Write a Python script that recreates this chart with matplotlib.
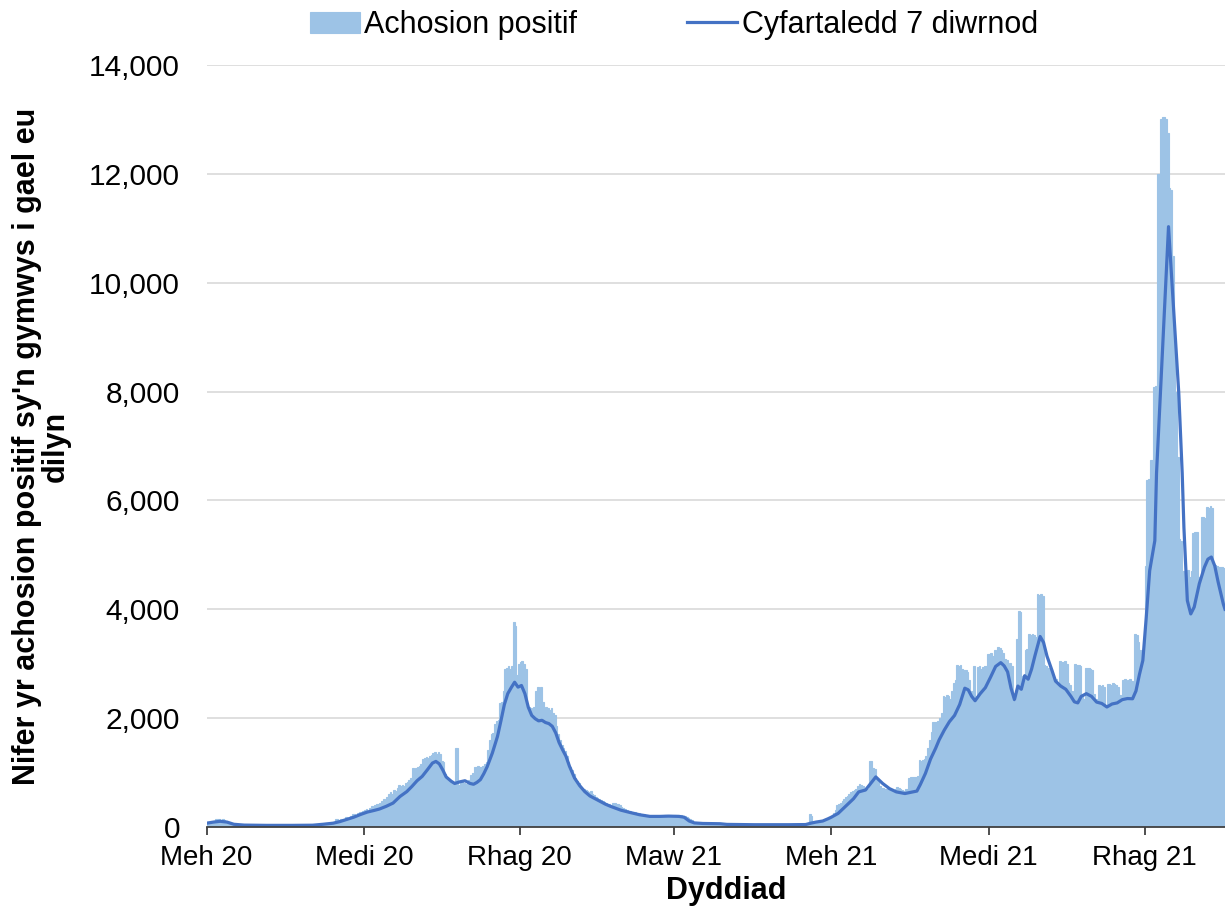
import matplotlib
matplotlib.use("Agg")
import matplotlib.pyplot as plt
import matplotlib.dates as mdates
from matplotlib.ticker import FuncFormatter
import pandas as pd

# daily positive cases eligible for follow-up, from 1 June 2020
cases_2020 = [
    # Jun
    70, 80, 90, 75, 110, 140, 150, 145, 135, 140, 120, 70, 60, 55, 50,
    40, 35, 38, 30, 32, 35, 30, 28, 30, 33, 28, 30, 25, 27, 30,
    # Jul
    28, 30, 25, 27, 32, 30, 26, 28, 24, 30, 27, 25, 29, 31, 26, 24,
    28, 30, 27, 25, 29, 26, 24, 30, 28, 27, 25, 29, 31, 28, 30,
    # Aug
    35, 40, 38, 45, 50, 55, 60, 58, 65, 70, 80, 75, 85, 95, 150, 140,
    130, 145, 150, 155, 185, 170, 190, 200, 230, 240, 220, 260, 280, 275, 300,
    # Sep
    310, 330, 300, 350, 380, 360, 400, 420, 430, 440, 470, 520, 500, 560, 600,
    640, 610, 685, 660, 720, 770, 750, 780, 760, 800, 830, 860, 900, 1080, 1070,
    # Oct
    1090, 1100, 1120, 1150, 1250, 1270, 1280, 1260, 1300, 1320, 1360, 1370,
    1350, 1380, 1340, 1210, 1200, 980, 900, 850, 820, 800, 790, 1460, 1450,
    780, 800, 820, 810, 790, 800,
    # Nov
    860, 950, 1000, 1110, 1100, 1120, 1110, 1100, 1120, 1150, 1200, 1420,
    1600, 1700, 1725, 1900, 1950, 1970, 2280, 2300, 2500, 2900, 2920, 2950,
    2900, 2950, 3775, 3700, 2800, 3000,
    # Dec
    3025, 3050, 3000, 2900, 2250, 2200, 2180, 2150, 2200, 2500, 2580, 2550,
    2580, 2300, 2185, 2200, 2180, 2150, 2190, 2100, 2050, 1850, 1700, 1600,
    1500, 1450, 1400, 1300, 1200, 1100, 1050,
]

cases_2021 = [
    # Jan
    980, 900, 850, 800, 760, 720, 700, 680, 660, 650, 655, 600, 580, 560, 540,
    520, 500, 480, 460, 450, 430, 420, 410, 440, 440, 430, 420, 400, 360, 340, 330,
    # Feb
    310, 300, 290, 280, 280, 270, 260, 250, 240, 235, 230, 220, 215, 210,
    205, 210, 200, 205, 210, 200, 205, 210, 215, 220, 210, 200, 205, 210,
    # Mar
    220, 225, 215, 220, 225, 210, 200, 180, 160, 140, 120, 100, 90, 80, 70,
    65, 68, 72, 60, 65, 70, 62, 58, 66, 64, 60, 55, 58, 62, 57, 55,
    # Apr
    50, 45, 48, 42, 40, 46, 44, 38, 42, 45, 40, 43, 41, 39, 44,
    42, 40, 38, 45, 43, 41, 40, 44, 42, 39, 41, 43, 40, 38, 42,
    # May
    42, 45, 40, 44, 46, 43, 41, 45, 48, 44, 46, 50, 47, 52, 55, 58,
    60, 65, 230, 210, 75, 80, 90, 95, 100, 110, 115, 120, 130, 150, 170,
    # Jun
    185, 250, 320, 400, 430, 450, 480, 520, 550, 570, 600, 640, 660, 675, 700,
    750, 790, 780, 760, 720, 690, 700, 1220, 1210, 1075, 1060, 900, 820, 760, 720,
    # Jul
    720, 700, 690, 680, 700, 690, 680, 700, 740, 720, 700, 680, 670, 690, 700,
    900, 920, 920, 910, 920, 930, 1230, 1220, 1240, 1250, 1300, 1450, 1600,
    1750, 1925, 1920,
    # Aug
    1925, 1950, 2000, 2100, 2400, 2380, 2420, 2400, 2350, 2500, 2650, 2700,
    2980, 2950, 2980, 2900, 2890, 2880, 2850, 2700, 2500, 2450, 2950, 2400,
    2940, 2950, 2900, 2940, 2960, 2950, 3180,
    # Sep
    3180, 3200, 3150, 3250, 3240, 3300, 3280, 3250, 3200, 3080, 3060, 3000,
    3020, 2950, 2350, 2320, 3450, 3970, 3950, 2780, 2800, 3260, 3270, 3540,
    3520, 3550, 3530, 3500, 4290, 4260,
    # Oct
    4280, 4250, 2980, 2950, 2930, 2900, 2910, 2750, 2700, 2720, 2650, 3050,
    3040, 3030, 3050, 3000, 2650, 2600, 2500, 2400, 2990, 2980, 2985, 2950,
    2400, 2350, 2930, 2920, 2925, 2900, 2880,
    # Nov
    2450, 2350, 2300, 2600, 2590, 2610, 2580, 2250, 2630, 2620, 2600, 2640,
    2620, 2600, 2580, 2420, 2400, 2700, 2710, 2690, 2700, 2720, 2680, 2400,
    3540, 3520, 3400, 3250, 3240, 3200,
    # Dec
    4800, 6370, 6400, 6740, 6740, 8090, 8100, 12000, 12000, 13000, 13040,
    13050, 13000, 12750, 11740, 11700, 10500, 9000, 8000, 6800, 5300, 5260,
    4700, 4650, 4700, 4720, 4600, 4700, 5400, 5415, 5420,
]

cases_2022 = [
    4600, 4590, 5690, 5700, 5680, 5880, 5870, 5900, 5860, 4800, 4810, 4790,
    4780, 4770, 4775, 4760,
]

# 7 day average (days since 1 June 2020)
avg_day = [
    0, 4, 8, 12, 16, 22, 35, 50, 62, 68, 74, 78, 82, 86, 90, 94, 98, 101,
    105, 109, 113, 117, 120, 123, 126, 129, 132, 134, 136, 138, 140, 143,
    145, 148, 151, 154, 156, 158, 160, 162, 164, 167, 170, 172, 174, 176,
    178, 180, 182, 184, 186, 188, 190, 192, 194, 196, 198, 200, 202, 204,
    206, 208, 210, 212, 215, 218, 221, 224, 227, 230, 233, 236, 239, 242,
    247, 253, 259, 265, 270, 276, 279, 282, 285, 290, 300, 304, 320, 340,
    350, 353, 356, 360, 363, 365, 369, 373, 378, 381, 385, 388, 391, 393,
    395, 399, 403, 408, 412, 415, 417, 420, 423, 426, 428, 431, 434, 437,
    440, 443, 445, 447, 449, 452, 455, 458, 461, 464, 466, 468, 470, 472,
    474, 476, 478, 480, 482, 484, 487, 489, 491, 494, 496, 499, 502, 505,
    507, 509, 511, 514, 517, 520, 523, 526, 529, 532, 535, 538, 541, 543,
    545, 547, 549, 551, 554, 555, 562, 566, 568, 570, 571, 573, 575, 577,
    580, 583, 585, 587, 589, 591, 594, 595,
]
avg_value = [
    70, 90, 105, 90, 50, 35, 30, 30, 33, 50, 70, 100, 140, 180, 230, 275,
    305, 330, 380, 440, 560, 650, 745, 850, 930, 1050, 1175, 1205, 1160,
    1050, 920, 840, 800, 830, 850, 800, 785, 820, 870, 980, 1110, 1360,
    1665, 1950, 2250, 2450, 2560, 2660, 2570, 2600, 2450, 2200, 2050, 1990,
    1950, 1960, 1920, 1900, 1850, 1730, 1550, 1420, 1300, 1120, 900, 760,
    650, 570, 520, 470, 420, 380, 345, 310, 270, 225, 195, 195, 200, 195,
    180, 110, 75, 65, 60, 48, 42, 42, 45, 70, 90, 110, 150, 180, 250, 370,
    520, 645, 680, 800, 920, 860, 800, 705, 645, 615, 640, 660, 780, 985,
    1250, 1450, 1600, 1780, 1935, 2050, 2250, 2550, 2520, 2400, 2320, 2450,
    2560, 2750, 2950, 3020, 2960, 2850, 2550, 2340, 2590, 2530, 2780, 2715,
    2900, 3150, 3500, 3390, 3140, 2870, 2680, 2590, 2530, 2400, 2300, 2280,
    2400, 2450, 2400, 2295, 2270, 2205, 2260, 2280, 2340, 2360, 2356, 2500,
    2800, 3060, 3855, 4710, 5260, 6500, 11030, 9000, 7970, 6500, 5500, 4160,
    3915, 4040, 4470, 4775, 4920, 4960, 4800, 4500, 4100, 4000,
]

tick_dates = ["2020-06-01", "2020-09-01", "2020-12-01", "2021-03-01",
              "2021-06-01", "2021-09-01", "2021-12-01"]
tick_labels = ["Meh 20", "Medi 20", "Rhag 20", "Maw 21", "Meh 21", "Medi 21", "Rhag 21"]

start = pd.Timestamp("2020-06-01")
cases = cases_2020 + cases_2021 + cases_2022
dates = pd.date_range(start, periods=len(cases), freq="D")
avg_dates = [start + pd.Timedelta(days=d) for d in avg_day]

plt.rcParams["font.family"] = ["Liberation Sans", "DejaVu Sans"]

fig = plt.figure(figsize=(12.25, 9.19), dpi=100)
ax = fig.add_axes([206.5 / 1225, 1 - 827 / 919, 1 - 206.5 / 1225, (827 - 65) / 919])

bars = ax.bar(dates, cases, width=1.0, align="edge", color="#9DC3E6",
              edgecolor="#9DC3E6", linewidth=0.8, label="Achosion positif", zorder=2)
line, = ax.plot(avg_dates, avg_value, color="#4472C4", linewidth=2.3,
                label="Cyfartaledd 7 diwrnod", zorder=3)

ax.set_xlim(start, start + pd.Timedelta(days=len(cases)))
ax.set_ylim(0, 14000)
ax.set_yticks(range(0, 14001, 2000))
ax.yaxis.set_major_formatter(FuncFormatter(lambda v, p: f"{int(v):,}"))
ax.set_xticks([mdates.date2num(pd.Timestamp(d)) for d in tick_dates])
ax.set_xticklabels(tick_labels, fontsize=20)

ax.grid(axis="y", color="#D9D9D9", linewidth=1.2, zorder=0)
ax.set_axisbelow(True)
for side in ["top", "right", "left"]:
    ax.spines[side].set_visible(False)
ax.spines["bottom"].set_color("#404040")
ax.spines["bottom"].set_linewidth(1.3)
ax.spines["bottom"].set_zorder(4)
ax.tick_params(axis="y", length=0, labelsize=21.5, pad=19)
ax.tick_params(axis="x", length=6, width=1.3, color="#404040", pad=7)

fig.text(41 / 1225, 1 - 446 / 919,
         "Nifer yr achosion positif sy'n gymwys i gael eu\ndilyn",
         rotation=90, ha="center", va="center", multialignment="center",
         fontsize=22, fontweight="bold", linespacing=0.95)
fig.text(726 / 1225, 1 - 891 / 919, "Dyddiad", ha="center", va="center",
         fontsize=22, fontweight="bold")

fig.legend(handles=[bars, line], loc="center", bbox_to_anchor=(674 / 1225, 1 - 25 / 919),
           ncol=2, frameon=False, fontsize=22,
           handlelength=1.63, handletextpad=0.15, columnspacing=3.6,
           borderaxespad=0.0)

fig.savefig("out.png", dpi=100)
